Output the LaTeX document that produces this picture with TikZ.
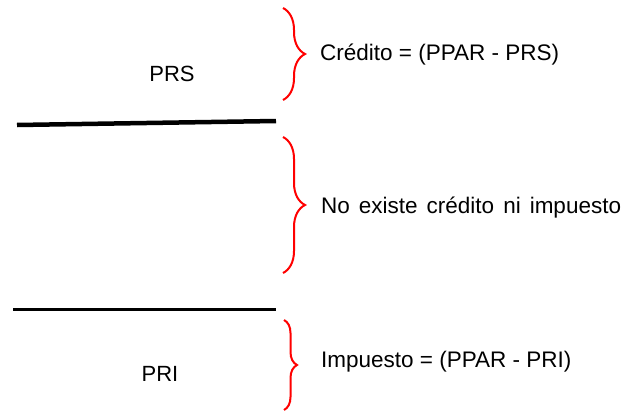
\documentclass[tikz,border=0pt]{standalone}
\usepackage{fontspec}
\setmainfont{Liberation Sans}
\usetikzlibrary{decorations.pathreplacing}
\tikzset{
	llave/.style = {red, line width = 2pt, decorate, decoration = {brace, amplitude = #1}},
	rotulo/.style = {anchor = west, inner sep = 0pt, font = \fontsize{22.5}{26}\selectfont},
	precio/.style = {inner sep = 0pt, font = \fontsize{22}{26}\selectfont}
}
\begin{document}
\begin{tikzpicture}[x = 1pt, y = 1pt]
	\useasboundingbox (0, 0) rectangle (626, 416);
	% price levels
	\draw[line width = 4.5pt] (17, 291) -- (276, 295);
	\draw[line width = 3pt] (13, 107) -- (276, 107);
	\node[precio] (prs) at (172, 342) {PRS};
	\node[precio] (pri) at (160, 42) {PRI};
	% braces
	\draw[llave = 22pt] (283, 408) -- (283, 316);
	\draw[llave = 22pt] (283, 279) -- (283, 143);
	\draw[llave = 13pt] (284, 96) -- (284, 6);
	% texts
	\node[rotulo] (credito) at (320, 361) {Crédito = (PPAR - PRS)};
	\node[rotulo] (neutro) at (321, 208) {\spaceskip=9pt\relax No existe crédito ni impuesto};
	\node[rotulo] (impuesto) at (321, 54) {Impuesto = (PPAR - PRI)};
\end{tikzpicture}
\end{document}
